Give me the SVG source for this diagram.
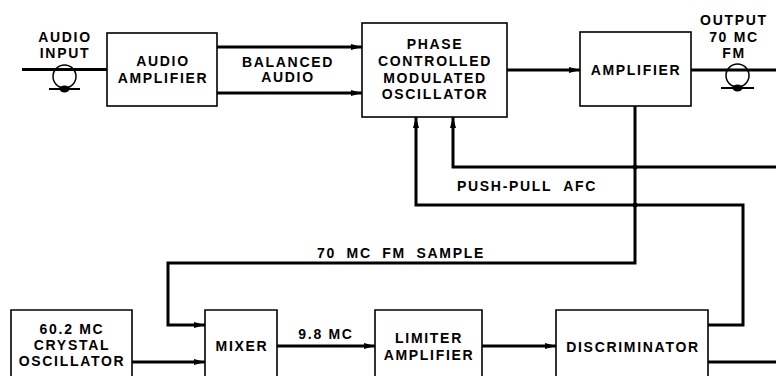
<svg xmlns="http://www.w3.org/2000/svg" width="776" height="376" viewBox="0 0 776 376">
<defs>
<style>
.box{fill:#fff;stroke:#000;stroke-width:1.6}
.w{fill:none;stroke:#000;stroke-width:3}
.t{font-family:"Liberation Sans",Arial,sans-serif;font-size:14px;font-weight:bold;letter-spacing:1.7px;text-anchor:middle;fill:#000}
.jack{fill:none;stroke:#000;stroke-width:1.5}
</style>
<marker id="ah" markerUnits="userSpaceOnUse" markerWidth="12" markerHeight="8" refX="11" refY="4" orient="auto">
<path d="M0,1 L11,4 L0,7 z" fill="#000"/>
</marker>
</defs>
<rect width="776" height="376" fill="#fff"/>

<g id="connectors">
<path class="w" d="M22,69.5 H107"/>
<path class="w" d="M217,47 H362" marker-end="url(#ah)"/>
<path class="w" d="M217,93 H362" marker-end="url(#ah)"/>
<path class="w" d="M507,70 H580" marker-end="url(#ah)"/>
<path class="w" d="M691,70 H776"/>
<path class="w" d="M635,106 V263 H168 V325 H205" marker-end="url(#ah)"/>
<path class="w" d="M776,167 H453 V117" marker-end="url(#ah)"/>
<path class="w" d="M708,325 H743 V205 H416 V117" marker-end="url(#ah)"/>
<path class="w" d="M132,362 H205" marker-end="url(#ah)"/>
<path class="w" d="M277,346 H375" marker-end="url(#ah)"/>
<path class="w" d="M482,346 H556" marker-end="url(#ah)"/>
<path class="w" d="M708,362 H776"/>
<circle cx="635" cy="167" r="2.5" fill="#000"/>
<circle cx="635" cy="205" r="2.5" fill="#000"/>
</g>

<g id="audio-input">
<circle class="jack" cx="64.5" cy="76.5" r="11.5"/>
<path d="M49,89 H80" stroke="#000" stroke-width="2"/>
<ellipse cx="64.5" cy="89" rx="5" ry="3.5" fill="#000"/>
<text class="t" x="65" y="42">AUDIO</text>
<text class="t" x="65" y="58">INPUT</text>
</g>

<g id="output">
<circle class="jack" cx="737.5" cy="75.5" r="11.5"/>
<path d="M721,88 H754" stroke="#000" stroke-width="2"/>
<ellipse cx="737.5" cy="88" rx="5" ry="3.5" fill="#000"/>
<text class="t" x="734" y="25">OUTPUT</text>
<text class="t" x="734" y="42">70 MC</text>
<text class="t" x="734" y="58">FM</text>
</g>

<g id="audio-amplifier">
<rect class="box" x="107" y="33" width="110" height="73"/>
<text class="t" x="163" y="66">AUDIO</text>
<text class="t" x="163" y="83">AMPLIFIER</text>
</g>

<g id="balanced-audio-label">
<text class="t" x="288" y="67">BALANCED</text>
<text class="t" x="288" y="82">AUDIO</text>
</g>

<g id="pcmo">
<rect class="box" x="362" y="23" width="145" height="94"/>
<text class="t" x="435" y="49">PHASE</text>
<text class="t" x="435" y="66">CONTROLLED</text>
<text class="t" x="435" y="83">MODULATED</text>
<text class="t" x="435" y="99">OSCILLATOR</text>
</g>

<g id="amplifier">
<rect class="box" x="580" y="32" width="111" height="74"/>
<text class="t" x="636" y="75">AMPLIFIER</text>
</g>

<g id="afc-label">
<text class="t" x="527" y="191" style="word-spacing:6px">PUSH-PULL AFC</text>
</g>

<g id="sample-label">
<text class="t" x="401" y="258" style="word-spacing:5px">70 MC FM SAMPLE</text>
</g>

<g id="crystal-oscillator">
<path class="box" d="M11,377 V310 H132 V377"/>
<text class="t" x="72" y="334">60.2 MC</text>
<text class="t" x="72" y="350">CRYSTAL</text>
<text class="t" x="72" y="366">OSCILLATOR</text>
</g>

<g id="mixer">
<path class="box" d="M205,377 V310 H277 V377"/>
<text class="t" x="242" y="351">MIXER</text>
</g>

<g id="if-label">
<text class="t" x="326" y="339">9.8 MC</text>
</g>

<g id="limiter-amplifier">
<path class="box" d="M375,377 V310 H482 V377"/>
<text class="t" x="429" y="343">LIMITER</text>
<text class="t" x="429" y="360">AMPLIFIER</text>
</g>

<g id="discriminator">
<path class="box" d="M556,377 V310 H708 V377"/>
<text class="t" x="633" y="352">DISCRIMINATOR</text>
</g>
</svg>
